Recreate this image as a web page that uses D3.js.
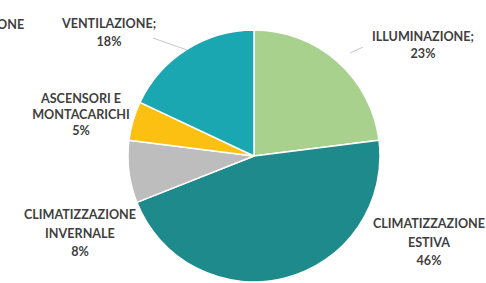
<!DOCTYPE html>
<html>
<head>
<meta charset="utf-8">
<script src="https://cdn.jsdelivr.net/npm/d3@7"></script>
<style>
  html, body { margin: 0; padding: 0; background: #fff; }
  svg { display: block; }
  .lbl { font-family: Lato, "Open Sans", sans-serif; font-weight: 700; font-size: 12.6px; fill: #3f3f3f; }
</style>
</head>
<body>
<svg id="chart"></svg>
<script>
// data
const categories = ['ILLUMINAZIONE', 'CLIMATIZZAZIONE ESTIVA', 'CLIMATIZZAZIONE INVERNALE', 'ASCENSORI E MONTACARICHI', 'VENTILAZIONE'];
const values = [23, 46, 8, 5, 18];
const labelLines = [
  ['ILLUMINAZIONE;', '23%'],
  ['CLIMATIZZAZIONE', 'ESTIVA', '46%'],
  ['CLIMATIZZAZIONE', 'INVERNALE', '8%'],
  ['ASCENSORI E', 'MONTACARICHI', '5%'],
  ['VENTILAZIONE;', '18%']
];
const colors = ['#a9d18e', '#1f8a8c', '#bdbdbd', '#fcc012', '#1ba7b1'];

// label placement (layout only)
const labelPos = [
  {x: 423, y: 41, lh: 17},
  {x: 429, y: 228, lh: 18.5},
  {x: 80, y: 219, lh: 18.5},
  {x: 81, y: 103, lh: 16},
  {x: 109, y: 28, lh: 17.5}
];
const leaders = [
  [[363, 47], [350, 53]],
  null, null, null,
  [[153, 38], [187, 50]]
];

const width = 486, height = 283;
const cx = 254, cy = 156, radius = 126;

const svg = d3.select('#chart')
    .attr('width', width)
    .attr('height', height);

const g = svg.append('g')
    .attr('transform', `translate(${cx},${cy})`);

const pie = d3.pie().sort(null).value(d => d);
const arc = d3.arc().innerRadius(0).outerRadius(radius);

g.selectAll('path')
  .data(pie(values))
  .join('path')
    .attr('d', arc)
    .attr('fill', (d, i) => colors[i])
    .attr('stroke', '#fff')
    .attr('stroke-width', 1.5)
    .attr('stroke-linejoin', 'round');

// leader lines
leaders.forEach(l => {
  if (!l) return;
  svg.append('line')
    .attr('x1', l[0][0]).attr('y1', l[0][1])
    .attr('x2', l[1][0]).attr('y2', l[1][1])
    .attr('stroke', '#c8c8c8')
    .attr('stroke-width', 1);
});

// data labels
labelLines.forEach((lines, i) => {
  const p = labelPos[i];
  const t = svg.append('text')
    .attr('class', 'lbl')
    .attr('text-anchor', 'middle');
  lines.forEach((s, j) => {
    t.append('tspan')
      .attr('x', p.x)
      .attr('y', p.y + j * p.lh)
      .text(s);
  });
});

// cut-off title fragment at top left
svg.append('text')
  .attr('class', 'lbl')
  .attr('x', -3)
  .attr('y', 29)
  .text('ONE');
</script>
</body>
</html>
